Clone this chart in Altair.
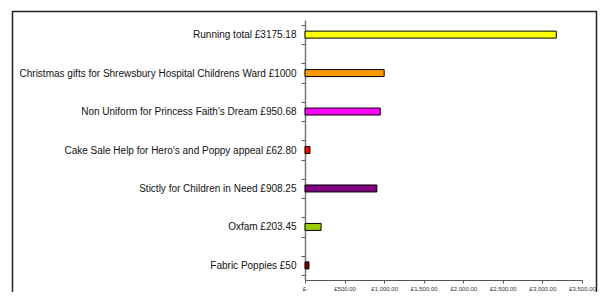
import json
import altair as alt
import pandas as pd

categories = [
    "Running total £3175.18",
    "Christmas gifts for Shrewsbury Hospital Childrens Ward £1000",
    "Non Uniform for Princess Faith's Dream £950.68",
    "Cake Sale Help for Hero's and Poppy appeal £62.80",
    "Stictly for Children in Need £908.25",
    "Oxfam £203.45",
    "Fabric Poppies £50",
]
values = [3175.18, 1000, 950.68, 62.80, 908.25, 203.45, 50]
colors = ["#FFFF00", "#FF9900", "#FF00FF", "#FF0000", "#800080", "#99CC00", "#800000"]
x_ticks = [0, 500, 1000, 1500, 2000, 2500, 3000, 3500]
x_tick_labels = ["£-", "£500.00", "£1,000.00", "£1,500.00", "£2,000.00",
                 "£2,500.00", "£3,000.00", "£3,500.00"]

n = len(categories)
# each category sits in every other slot of the category axis (gap slots between)
slots = [2 * (n - 1 - i) + 0.5 for i in range(n)]
df = pd.DataFrame({"cat": categories, "value": values, "pos": slots, "color": colors})

y_label_expr = "".join(
    f"datum.value == {p} ? {json.dumps(c, ensure_ascii=False)} : " for p, c in zip(slots, categories)
) + "''"
x_label_expr = "".join(
    f"datum.value == {v} ? {json.dumps(l, ensure_ascii=False)} : " for v, l in zip(x_ticks, x_tick_labels)
) + "''"

y_values = list(range(0, 2 * n)) + slots

bars = alt.Chart(df).mark_bar(orient="horizontal", size=7, stroke="#000000", strokeWidth=1).encode(
    x=alt.X("value:Q", scale=alt.Scale(domain=[0, 3500], nice=False),
            axis=alt.Axis(values=x_ticks, labelExpr=x_label_expr, title=None, grid=False,
                          labelFontSize=6, labelColor="#333333", labelFont="Liberation Sans",
                          tickSize=3, tickColor="#555555", domainColor="#555555",
                          labelPadding=2, labelFlush=False)),
    y=alt.Y("pos:Q", scale=alt.Scale(domain=[0, 2 * n - 1], nice=False, zero=False),
            axis=alt.Axis(values=y_values, labelExpr=y_label_expr, title=None, grid=False,
                          labelFontSize=10, labelColor="#111111", labelFont="Liberation Sans",
                          labelLimit=400,
                          tickSize=4, tickColor="#555555", domainColor="#777777", domainWidth=1.5,
                          tickOpacity={"condition": {"test": "datum.value % 1 == 0", "value": 1}, "value": 0},
                          labelPadding=5, labelFlush=False, labelOverlap=False)),
    color=alt.Color("color:N", scale=None),
)

border = alt.Chart(pd.DataFrame({"a": [0]})).mark_rect(
    fill=None, stroke="#222222", strokeWidth=1.5
).encode(
    x=alt.value(-292.5), x2=alt.value(291.5), y=alt.value(-8.5), y2=alt.value(300)
)

chart = alt.layer(bars, border).properties(
    width=277, height=260,
    autosize=alt.AutoSizeParams(type="none"),
    padding={"left": 297, "top": 12, "right": 16, "bottom": 12},
).configure_view(stroke=None)

chart.save("out.html", embed_options={"renderer": "svg", "actions": False})
